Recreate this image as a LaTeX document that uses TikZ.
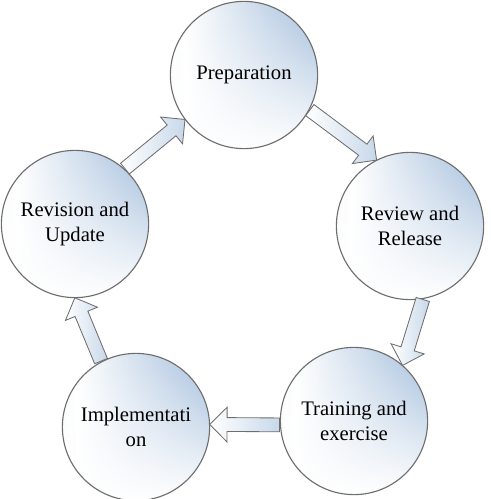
\documentclass[tikz,border=0pt]{standalone}
\usepackage{fontspec}
\setmainfont{Liberation Serif}
\usepackage{xcolor}
\usepackage{tikz}
\usetikzlibrary{calc, shapes.arrows, fadings}

\definecolor{stageblue}{RGB}{163,190,220}
\definecolor{stageline}{RGB}{110,110,110}

% horizontal shading of the stage circles and white fade towards the bottom
\pgfdeclarehorizontalshading{stageshade}{100bp}{color(0bp)=(stageblue!40); color(30bp)=(white); color(74bp)=(stageblue); color(100bp)=(stageblue)}
\tikzfading[name=stagefade, top color=transparent!100, middle color=transparent!45, bottom color=transparent!0]

\tikzset{
  stage/.style={circle, draw=stageline, line width=0.8pt, minimum size=3.68cm,
    inner sep=0pt, align=center, font=\fontsize{14.7}{17.8}\selectfont,
    path picture={
      \shade[shading=stageshade] (path picture bounding box.south west) rectangle (path picture bounding box.north east);
      \fill[white, path fading=stagefade] (path picture bounding box.south west) rectangle (path picture bounding box.north east);
    }},
  flowarrow/.style={single arrow, draw=stageline, line width=0.6pt,
    left color=white, right color=stageblue!60,
    inner xsep=0pt, inner ysep=0.1625cm, single arrow head extend=0.26cm,
    single arrow tip angle=90, anchor=tail}
}

% block arrow from one anchor to another
\newcommand{\cyclearrow}[2]{%
  \path let \p1=(#1), \p2=(#2),
    \n1={atan2(\y2-\y1,\x2-\x1)}, \n2={veclen(\x2-\x1,\y2-\y1)} in
    node[flowarrow, minimum height=\n2, rotate=\n1] at (\p1) {};}

\begin{document}
\begin{tikzpicture}[x=0.025cm, y=-0.025cm]

    \useasboundingbox (0,0) rectangle (491,499);

    % =================================================================
    % PART 1: THE FIVE STAGES
    % =================================================================
    \node[stage] (prep)   at (244,75)  {Preparation};
    \node[stage] (review) at (410,226) {Review and\\Release};
    \node[stage] (train)  at (354,421) {Training and\\exercise};
    \node[stage] (impl)   at (136,427) {Implementati\\on};
    \node[stage] (revis)  at (75,224)  {Revision and\\Update};

    % =================================================================
    % PART 2: BLOCK ARROWS OF THE CYCLE
    % =================================================================
    \cyclearrow{prep.-28}{review.117}
    \cyclearrow{review.-80}{train.49}
    \cyclearrow{train.183}{impl.2}
    \cyclearrow{impl.118}{revis.-90}
    \cyclearrow{revis.48}{prep.217}

\end{tikzpicture}
\end{document}
